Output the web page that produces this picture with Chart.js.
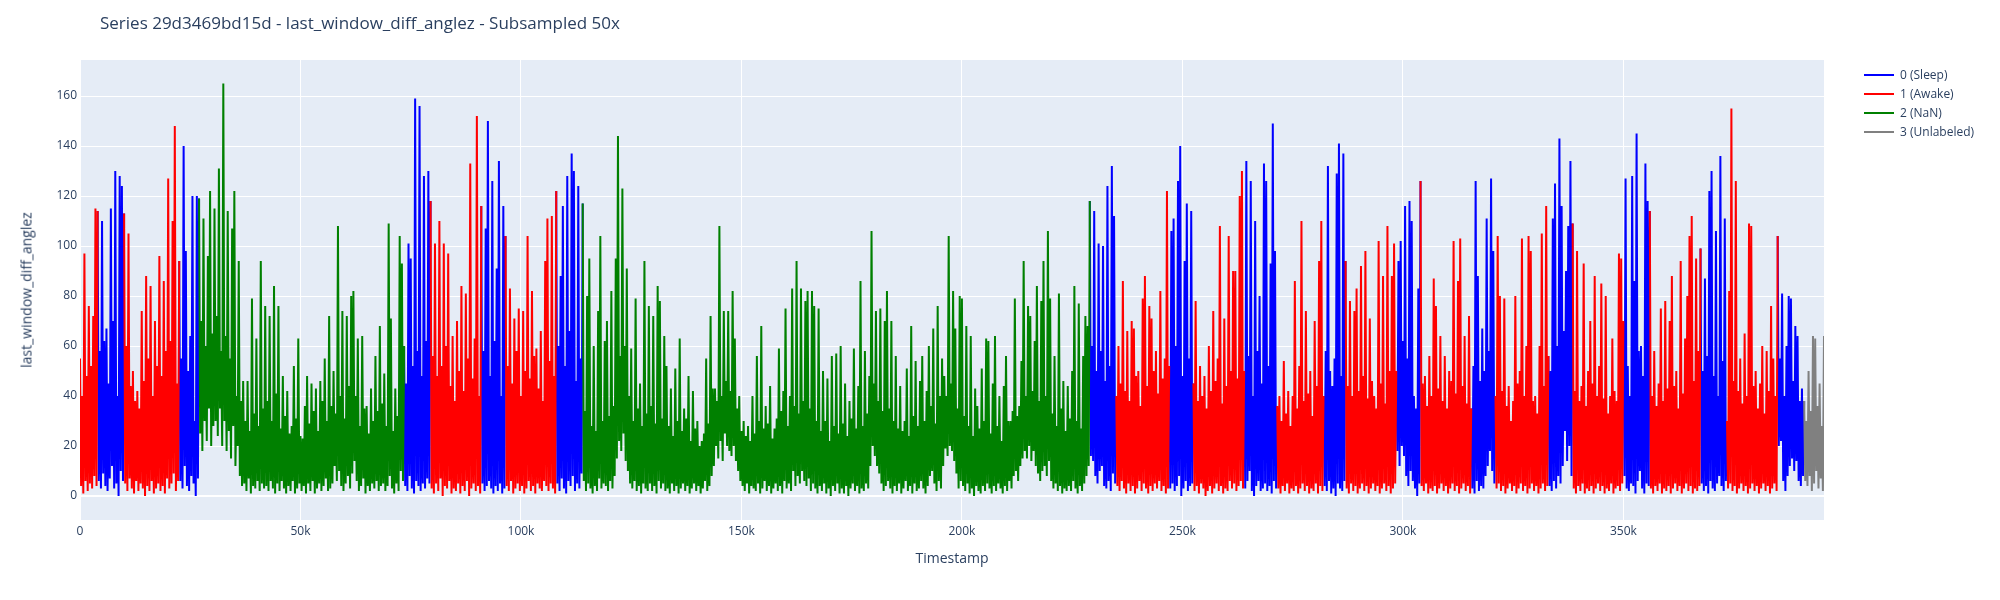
<!DOCTYPE html>
<html>
<head>
<meta charset="utf-8">
<script src="https://cdn.jsdelivr.net/npm/chart.js@4.4.1/dist/chart.umd.min.js"></script>
<style>
  html, body { margin: 0; padding: 0; background: #ffffff; }
  #wrap { position: relative; width: 2000px; height: 600px; font-family: "Open Sans", "DejaVu Sans", sans-serif; color: #2a3f5f; }
  #c { position: absolute; left: 0; top: 0; }
  .title { position: absolute; left: 100px; top: 12px; font-size: 17px; line-height: 22px; white-space: nowrap; }
  .xtitle { position: absolute; left: 952px; top: 557px; transform: translate(-50%, -50%); font-size: 14px; white-space: nowrap; }
  .ytitle { position: absolute; left: 26px; top: 290px; transform: translate(-50%, -50%) rotate(-90deg); font-size: 14px; white-space: nowrap; }
  .legend { position: absolute; left: 1864px; top: 65px; font-size: 12px; }
  .legend .row { position: relative; height: 19px; line-height: 19px; white-space: nowrap; }
  .legend .swatch { position: absolute; left: 0; top: 9px; width: 30px; height: 2px; }
  .legend .lbl { position: absolute; left: 36px; top: 0; }
</style>
</head>
<body>
<div id="wrap">
  <canvas id="c" width="2000" height="600"></canvas>
  <div class="title">Series 29d3469bd15d - last_window_diff_anglez - Subsampled 50x</div>
  <div class="xtitle">Timestamp</div>
  <div class="ytitle">last_window_diff_anglez</div>
  <div class="legend" id="legend"></div>
</div>
<script>
// ---- data ----
const STEP = 250; // timestamp spacing of the plotted samples
const classNames = ['0 (Sleep)', '1 (Awake)', '2 (NaN)', '3 (Unlabeled)'];
const classColors = ['#0000ff', '#ff0000', '#008000', '#808080'];
const segmentStart = [0, 4000, 10000, 22500, 27000, 73500, 79500, 91000, 96500, 108000, 114000,
  229000, 235000, 247000, 252500, 264000, 271500, 282000, 287000, 298500, 304000, 315500,
  321000, 333000, 338500, 350000, 356000, 367500, 373500, 385000, 391000];
const segmentClass = [1,0,1,0,2,0,1,0,1,0,2,0,1,0,1,0,1,0,1,0,1,0,1,0,1,0,1,0,1,0,3];
const xTickValues = [0, 50000, 100000, 150000, 200000, 250000, 300000, 350000];
const xTickLabels = ['0', '50k', '100k', '150k', '200k', '250k', '300k', '350k'];
const yTickValues = [0, 20, 40, 60, 80, 100, 120, 140, 160];
const anglez = [
  // seg 1 red
  55, 4, 40, 1, 97, 6, 48, 2, 76, 5, 52, 3, 72, 8, 115, 4,
  // seg 2 blue
  114, 6, 58, 3, 110, 9, 62, 4, 67, 2, 45, 7, 115, 12, 70, 3, 130, 5, 40, 0, 128, 10, 124, 6,
  // seg 3 red
  113, 5, 60, 2, 105, 7, 44, 3, 50, 1, 38, 6, 42, 2, 35, 5, 74, 3, 46, 0, 88, 4, 55, 2, 84,
  6, 40, 1, 70, 3, 52, 5, 96, 2, 48, 4, 86, 1, 58, 7, 127, 3, 62, 5, 110, 9, 148, 2, 45, 6,
  // seg 4 blue
  94, 6, 55, 3, 140, 12, 98, 4, 50, 2, 64, 8, 120, 5, 30, 0, 120, 7,
  // seg 5 green
  119, 25, 70, 18, 111, 30, 60, 22, 96, 35, 122, 20, 65, 28, 115, 30, 72, 24, 131, 35,
  58, 20, 165, 30, 64, 18, 114, 26, 55, 15, 107, 28, 122, 12, 40, 20, 94, 8, 38, 4,
  46, 5, 30, 2, 46, 7, 26, 1, 79, 4, 33, 3, 63, 6, 28, 2, 94, 5, 35, 3,
  76, 4, 38, 2, 72, 6, 30, 3, 84, 1, 41, 5, 76, 2, 27, 6, 48, 3, 32, 1,
  42, 4, 25, 2, 28, 6, 52, 1, 31, 3, 63, 5, 24, 2, 23, 4, 36, 1, 48, 5,
  29, 2, 45, 6, 34, 1, 43, 3, 26, 5, 46, 2, 38, 4, 55, 7, 30, 2, 72, 3,
  36, 5, 50, 12, 33, 6, 108, 10, 40, 4, 74, 2, 31, 5, 72, 8, 44, 3, 80, 9,
  82, 14, 40, 6, 63, 2, 28, 4, 64, 7, 35, 1, 36, 4, 25, 2, 43, 5,
  30, 3, 56, 6, 34, 2, 68, 4, 37, 5, 49, 2, 28, 4, 109, 8, 71, 3, 26, 1, 43, 5, 32, 2, 104, 10, 93, 6,
  // seg 6 blue
  60, 4, 45, 2, 101, 8, 95, 3, 52, 1, 159, 6, 58, 4, 156, 2, 48, 5, 128, 3, 62, 7, 130, 5,
  // seg 7 red
  118, 3, 56, 1, 101, 5, 48, 2, 110, 7, 52, 0, 101, 4, 60, 3, 97, 6, 44, 1, 64, 3, 38,
  2, 70, 5, 50, 1, 84, 4, 42, 2, 81, 6, 55, 0, 133, 3, 47, 5, 63, 2, 152, 4, 40, 1,
  // seg 8 blue
  116, 5, 58, 2, 107, 4, 150, 6, 48, 3, 126, 1, 62, 4, 91, 2, 134, 5, 40, 1, 116, 3,
  // seg 9 red
  104, 4, 52, 2, 83, 6, 45, 1, 71, 3, 58, 5, 75, 2, 40, 4, 74, 1, 50, 3, 104, 6, 47,
  2, 82, 4, 56, 1, 59, 5, 43, 3, 66, 2, 38, 6, 94, 4, 111, 2, 54, 5, 112, 3, 48, 1,
  // seg 10 blue
  122, 5, 60, 2, 88, 7, 116, 3, 52, 1, 128, 6, 66, 4, 137, 8, 130, 2, 46, 5, 124, 3, 55, 9,
  // seg 11 green
  117, 6, 34, 2, 80, 5, 95, 3, 28, 1, 60, 4, 26, 2, 74, 7, 104, 3, 30, 5,
  62, 4, 70, 2, 32, 6, 82, 3, 36, 8, 95, 15, 144, 22, 56, 18, 123, 25, 60, 14,
  91, 10, 40, 5, 59, 3, 30, 6, 79, 2, 35, 4, 45, 1, 28, 5, 94, 3, 33, 2,
  76, 5, 36, 2, 72, 4, 29, 1, 84, 6, 78, 3, 31, 5, 64, 2,
  52, 3, 28, 1, 43, 5, 24, 2, 51, 4, 30, 1, 63, 3, 26, 5, 35, 2, 31, 4,
  48, 1, 22, 3, 42, 5, 27, 2, 30, 4, 20, 1, 22, 3, 25, 6, 55, 2, 29, 4,
  72, 8, 43, 12, 43, 20, 38, 15, 108, 22, 40, 14, 74, 25, 46, 20, 74, 18, 42, 16,
  82, 20, 63, 14, 35, 10, 40, 6, 26, 4, 30, 2, 24, 5, 28, 1, 22, 4, 40, 3,
  25, 2, 56, 5, 30, 1, 68, 3, 27, 6, 36, 2, 29, 4, 44, 1, 23, 3, 27, 5,
  31, 2, 59, 4, 34, 1, 42, 6, 75, 3, 28, 5, 40, 2, 83, 10, 36, 4, 94, 8,
  33, 5, 83, 10, 38, 6, 78, 4, 82, 7, 35, 2, 82, 5, 76, 3, 30, 1, 75, 4,
  26, 2, 50, 5, 30, 1, 47, 3, 22, 0, 56, 4, 28, 2, 57, 5, 25, 1, 60, 3,
  29, 1, 45, 4, 24, 0, 38, 3, 31, 5, 59, 2, 27, 4, 44, 1, 86, 3, 28, 2,
  58, 5, 33, 3, 48, 12, 106, 20, 45, 16, 74, 12, 38, 9, 75, 5, 34, 2, 70, 4,
  82, 6, 35, 3, 70, 1, 30, 4, 56, 2, 27, 5, 44, 1, 26, 3, 30, 6, 51, 2,
  24, 4, 68, 1, 32, 5, 54, 2, 28, 3, 46, 6, 56, 3, 30, 1, 42, 4, 60, 8,
  36, 10, 67, 5, 29, 2, 76, 6, 40, 3, 55, 12, 48, 19, 40, 16, 104, 20, 45, 18,
  82, 14, 67, 9,
  35, 3, 80, 6, 79, 4, 32, 2, 68, 5, 28, 1, 64, 3, 24, 0, 43, 4, 36, 2,
  27, 1, 51, 4, 30, 2, 63, 5, 62, 3, 25, 1, 45, 4, 64, 2, 28, 5, 40, 3,
  22, 1, 44, 4, 56, 2, 30, 6, 30, 3, 34, 8, 79, 10, 32, 6, 36, 12, 54, 15,
  94, 18, 40, 15, 76, 20, 72, 14, 42, 18, 62, 12, 84, 9, 38, 6, 78, 10, 94, 12,
  40, 8, 106, 14, 79, 6, 33, 3, 56, 5, 28, 2, 81, 4, 35, 1, 46, 3, 26, 2,
  44, 4, 31, 2, 50, 6, 84, 3, 30, 1, 77, 4, 27, 2, 56, 5, 72, 8, 68, 12,
  // seg 12 blue
  118, 16, 60, 14, 114, 8, 50, 5, 101, 10, 58, 12, 100, 4, 46, 3, 124, 6, 52, 2, 132, 9, 112, 5,
  // seg 13 red
  40, 4, 60, 2, 45, 6, 86, 3, 42, 1, 66, 5, 38, 2, 70, 4, 67, 1, 48, 3, 50, 6, 36, 2,
  79, 5, 88, 3, 44, 1, 76, 4, 71, 2, 50, 5, 58, 3, 41, 6, 82, 2, 47, 4, 55, 1, 122, 3,
  // seg 14 blue
  52, 3, 106, 5, 111, 2, 60, 4, 126, 8, 140, 0, 48, 3, 94, 6, 117, 2, 55, 4, 114, 5,
  // seg 15 red
  45, 2, 78, 4, 38, 1, 52, 5, 40, 3, 48, 0, 35, 2, 60, 4, 42, 1, 74, 3, 46, 5, 55,
  2, 108, 4, 37, 1, 71, 3, 44, 2, 104, 6, 50, 3, 90, 5, 90, 2, 47, 4, 120, 6, 130, 3,
  // seg 16 blue
  50, 3, 134, 6, 56, 10, 126, 2, 40, 0, 110, 4, 58, 6, 80, 2, 45, 3, 133, 5, 126, 2, 52, 4, 93, 1, 149, 6, 98, 3,
  // seg 17 red
  36, 3, 40, 1, 30, 4, 54, 2, 33, 5, 42, 1, 28, 3, 40, 2, 86, 4, 35, 1, 52,
  3, 110, 5, 38, 2, 74, 4, 41, 1, 50, 3, 32, 2, 70, 5, 44, 1, 94, 4, 110, 2,
  // seg 18 blue
  40, 4, 58, 2, 132, 6, 50, 1, 44, 3, 55, 0, 129, 5, 141, 3, 48, 2, 137, 6,
  // seg 19 red
  94, 3, 44, 1, 78, 5, 40, 2, 74, 4, 83, 1, 42, 3, 92, 5, 48, 2, 98, 4, 39, 1, 71,
  3, 46, 5, 40, 2, 35, 4, 102, 1, 45, 3, 88, 5, 37, 2, 108, 4, 50, 1, 88, 3, 101, 5,
  // seg 20 blue
  50, 18, 94, 12, 102, 20, 62, 16, 116, 8, 55, 4, 118, 10, 110, 6, 40, 3, 35, 0, 83, 5,
  // seg 21 red
  126, 4, 45, 2, 48, 5, 36, 1, 56, 3, 40, 2, 87, 4, 76, 1, 43, 3, 64, 5, 38, 2, 56,
  4, 35, 1, 50, 3, 46, 5, 102, 2, 41, 4, 86, 1, 103, 3, 44, 5, 64, 2, 37, 4, 72, 1,
  // seg 22 blue
  35, 3, 52, 1, 126, 6, 88, 2, 46, 4, 67, 3, 50, 8, 111, 12, 58, 18, 127, 10, 98, 5,
  // seg 23 red
  40, 3, 104, 5, 80, 2, 42, 4, 79, 1, 36, 3, 44, 5, 30, 2, 38, 4, 80, 1, 45, 3, 50, 5,
  103, 2, 40, 4, 60, 1, 104, 3, 98, 5, 38, 2, 40, 4, 33, 1, 60, 3, 105, 5, 44, 2, 116, 4,
  // seg 24 blue
  56, 4, 50, 2, 111, 6, 125, 3, 60, 8, 143, 5, 116, 12, 66, 26, 90, 14, 108, 20, 134, 8,
  // seg 25 red
  109, 3, 42, 1, 98, 4, 38, 2, 44, 5, 93, 1, 36, 3, 50, 2, 70, 4, 45, 1, 88, 3, 40,
  5, 52, 2, 85, 4, 39, 1, 80, 3, 33, 2, 40, 5, 63, 1, 42, 3, 38, 4, 97, 2, 95, 5,
  // seg 26 blue
  70, 8, 127, 3, 52, 2, 40, 5, 128, 4, 86, 1, 145, 6, 58, 10, 60, 3, 48, 1, 133, 5, 118, 4,
  // seg 27 red
  114, 3, 40, 1, 58, 4, 36, 2, 45, 5, 75, 1, 38, 3, 78, 2, 43, 4, 70, 1, 88, 3, 44,
  5, 50, 2, 35, 4, 94, 1, 41, 3, 63, 5, 80, 2, 104, 4, 112, 1, 46, 3, 95, 2, 58, 4,
  // seg 28 blue
  99, 5, 50, 2, 87, 4, 56, 1, 122, 6, 130, 3, 48, 2, 106, 5, 40, 8, 136, 4, 54, 2, 111, 6,
  // seg 29 red
  30, 3, 82, 5, 155, 2, 46, 4, 126, 1, 42, 3, 55, 5, 37, 2, 65, 4, 40, 1, 109, 3, 108,
  5, 44, 2, 50, 4, 35, 1, 45, 3, 60, 5, 33, 2, 58, 4, 42, 1, 76, 3, 55, 5, 40, 2,
  // seg 30 blue
  104, 20, 55, 22, 81, 6, 40, 2, 60, 8, 80, 12, 79, 15, 46, 10, 68, 14, 64, 6, 38, 4, 43, 8,
  // seg 31 gray
  38, 6, 30, 4, 50, 8, 34, 2, 64, 5, 63, 10, 36, 3, 45, 7, 28, 2, 64
];

// ---- build one dataset per class (segments separated by gaps) ----
const X_MAX = (anglez.length - 1) * STEP;
const perClass = classNames.map(() => []);
for (let s = 0; s < segmentStart.length; s++) {
  const i0 = Math.round(segmentStart[s] / STEP);
  const i1 = s + 1 < segmentStart.length ? Math.round(segmentStart[s + 1] / STEP) : anglez.length - 1;
  const last = Math.min(i1, anglez.length - 1);
  const arr = perClass[segmentClass[s]];
  for (let i = i0; i <= last; i++) arr.push({ x: i * STEP, y: anglez[i] });
  arr.push({ x: last * STEP, y: null });
}
const datasets = classNames.map((name, c) => ({
  label: name,
  data: perClass[c],
  borderColor: classColors[c],
  backgroundColor: classColors[c],
  borderWidth: 2,
  pointRadius: 0,
  tension: 0,
  spanGaps: false,
  fill: false,
  order: classNames.length - c
}));

// legend
const legendEl = document.getElementById('legend');
classNames.forEach((n, c) => {
  const row = document.createElement('div');
  row.className = 'row';
  row.innerHTML = '<span class="swatch" style="background:' + classColors[c] + '"></span><span class="lbl"></span>';
  row.querySelector('.lbl').textContent = n;
  legendEl.appendChild(row);
});

const plotBg = {
  id: 'plotBg',
  beforeDraw(chart) {
    const a = chart.chartArea, ctx = chart.ctx;
    ctx.save();
    ctx.fillStyle = '#e5ecf6';
    ctx.fillRect(a.left, a.top, a.right - a.left, a.bottom - a.top);
    ctx.restore();
  }
};

const tickFont = { family: "'Open Sans', 'DejaVu Sans', sans-serif", size: 12 };
new Chart(document.getElementById('c'), {
  type: 'line',
  data: { datasets },
  plugins: [plotBg],
  options: {
    responsive: false,
    animation: false,
    devicePixelRatio: 1,
    layout: { padding: { left: 0, right: 176, top: 60, bottom: 0 } },
    plugins: { legend: { display: false }, tooltip: { enabled: false }, title: { display: false } },
    scales: {
      x: {
        type: 'linear',
        min: 0,
        max: X_MAX,
        afterFit(scale) { scale.height = 80; },
        afterBuildTicks(scale) { scale.ticks = xTickValues.map(v => ({ value: v })); },
        ticks: {
          padding: 4,
          color: '#2a3f5f',
          font: tickFont,
          maxRotation: 0,
          autoSkip: false,
          callback(v) { const k = xTickValues.indexOf(v); return k >= 0 ? xTickLabels[k] : ''; }
        },
        grid: { color: '#ffffff', lineWidth: 1, drawTicks: false },
        border: { display: false }
      },
      y: {
        type: 'linear',
        min: -9.6,
        max: 174.4,
        afterFit(scale) { scale.width = 80; },
        afterBuildTicks(scale) { scale.ticks = yTickValues.map(v => ({ value: v })); },
        ticks: {
          padding: 3,
          color: '#2a3f5f',
          font: tickFont,
          autoSkip: false,
          callback(v) { return String(v); }
        },
        grid: {
          color: '#ffffff',
          drawTicks: false,
          lineWidth(ctx) { return ctx.tick && ctx.tick.value === 0 ? 2 : 1; }
        },
        border: { display: false }
      }
    }
  }
});
</script>
</body>
</html>
